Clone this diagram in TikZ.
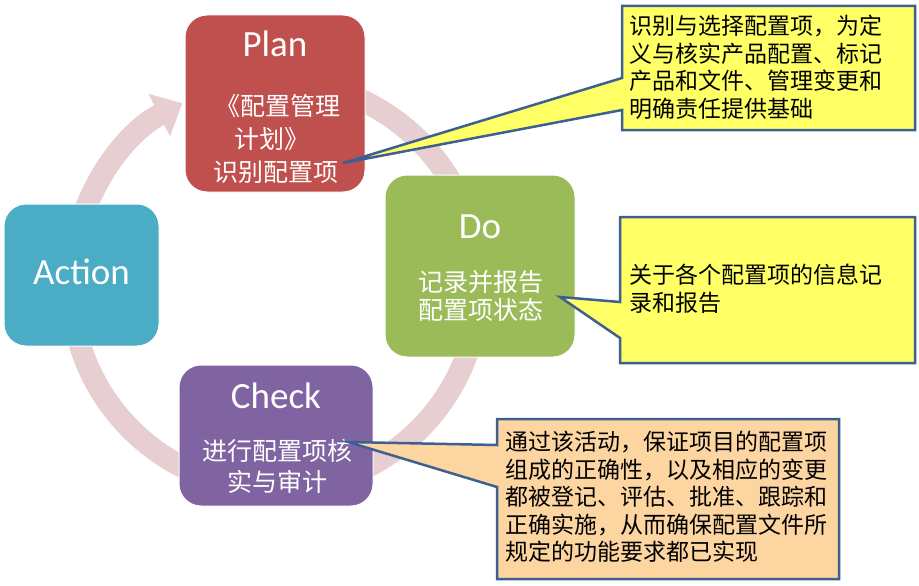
\documentclass[tikz,border=0pt]{standalone}
\usepackage{fontspec}
\setmainfont{Carlito}
\newfontfamily\cjk{Noto Sans CJK SC}
\usetikzlibrary{arrows.meta}
\definecolor{planc}{RGB}{192,80,77}
\definecolor{doc}{RGB}{155,187,89}
\definecolor{checkc}{RGB}{128,100,162}
\definecolor{actc}{RGB}{75,172,198}
\definecolor{ringc}{RGB}{231,206,208}
\definecolor{yellowc}{RGB}{255,255,102}
\definecolor{orangec}{RGB}{252,213,160}
\definecolor{edgec}{RGB}{62,96,145}
\begin{document}
\begin{tikzpicture}[x=1pt,y=-1pt,
  box/.style={rounded corners=22pt, draw=white, line width=1pt, inner sep=0pt},
  title/.style={text=white, font=\fontsize{37}{40}\selectfont, anchor=base, inner sep=0pt},
  body/.style={text=white, font=\cjk\fontsize{25}{32}\selectfont, anchor=base, inner sep=0pt},
  callout/.style={draw=edgec, line width=2.5pt, line join=miter},
  ctext/.style={font=\cjk\fontsize{23}{27.5}\selectfont, align=left, anchor=north west, inner sep=0pt, text=black}]
\useasboundingbox (0,0) rectangle (919,586);
\fill[white] (0,0) rectangle (919,586);
% cycle ring
\coordinate (rc) at (275,285);
\draw[ringc, line width=22pt, -{Triangle[width=46pt,length=26pt]}]
  (rc) ++(280:204) arc[start angle=280, end angle=603, radius=204];
% boxes
\node[box, fill=planc, minimum width=180pt, minimum height=177pt] (plan) at (275,103.5) {};
\node[box, fill=doc, minimum width=190pt, minimum height=182pt] (do) at (480,266) {};
\node[box, fill=checkc, minimum width=194pt, minimum height=141pt] (check) at (276,435.5) {};
\node[box, fill=actc, minimum width=155pt, minimum height=142pt] (action) at (81.5,275) {};
% titles
\node[title] (plant) at (275,57) {Plan};
\node[title] (dot) at (480,238) {Do};
\node[title] (checkt) at (276,408) {Check};
\node[title] (actiont) at (81.5,284) {Action};
% box texts
\node[body] (planb1) at (278,116) {《配置管理};
\node[body] (planb2) at (272,148) {计划》};
\node[body] (planb3) at (276,181) {识别配置项};
\node[body] (dob1) at (481,291) {记录并报告};
\node[body] (dob2) at (481,319) {配置项状态};
\node[body] (checkb1) at (277,460) {进行配置项核};
\node[body] (checkb2) at (277,491) {实与审计};
% callouts
\coordinate (tip1) at (343,163);
\coordinate (tip2) at (560,297);
\coordinate (tip3) at (348,442);
\draw[callout, fill=yellowc] (622,6) -- (915,6) -- (915,130) -- (622,130) -- (622,110) -- (tip1) -- (622,78) -- cycle;
\draw[callout, fill=yellowc] (620,217) -- (915,217) -- (915,363) -- (620,363) -- (620,338) -- (tip2) -- (620,302) -- cycle;
\draw[callout, fill=orangec] (497,419) -- (839,419) -- (839,579) -- (497,579) -- (497,487) -- (tip3) -- (497,445) -- cycle;
\node[ctext] (c1) at (629,15) {识别与选择配置项，为定\\义与核实产品配置、标记\\产品和文件、管理变更和\\明确责任提供基础};
\node[ctext] (c2) at (629,264) {关于各个配置项的信息记\\录和报告};
\node[ctext] (c3) at (505,431) {通过该活动，保证项目的配置项\\组成的正确性，以及相应的变更\\都被登记、评估、批准、跟踪和\\正确实施，从而确保配置文件所\\规定的功能要求都已实现};
\end{tikzpicture}
\end{document}
